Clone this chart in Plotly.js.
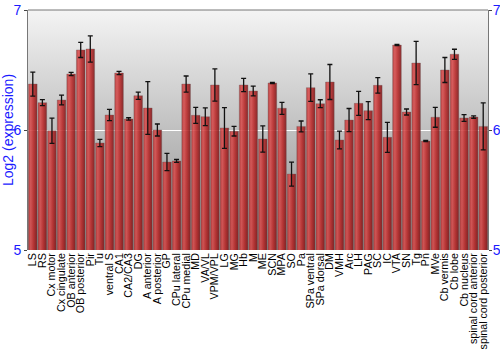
<!DOCTYPE html>
<html>
<head>
<meta charset="utf-8">
<script src="https://cdn.plot.ly/plotly-3.0.1.min.js"></script>
<style>html,body{margin:0;padding:0;background:#fff;}#chart{width:500px;height:350px;}</style>
</head>
<body>
<div id="chart"></div>
<script>
var regions = ["LS","RS","Cx motor","Cx cingulate","OB anterior","OB posterior","Pir","Tu","ventral S","CA1","CA2/CA3","DG","A anterior","A posterior","GP","CPu lateral","CPu medial","MD","VA/VL","VPM/VPL","LG","MG","Hb","M","ME","SCN","MPA","SO","Pa","SPa ventral","SPa dorsal","DM","VMH","Arc","LH","PAG","SC","IC","VTA","SN","Tg","Pn","MVe","Cb vermis","Cb lobe","Cb nucleus","spinal cord anterior","spinal cord posterior"];
var expression = [6.383,6.228,5.994,6.25,6.467,6.667,6.675,5.892,6.125,6.475,6.092,6.286,6.183,6.0,5.733,5.742,6.383,6.122,6.111,6.375,6.017,5.99,6.375,6.325,5.925,6.392,6.181,5.633,6.03,6.353,6.219,6.4,5.917,6.083,6.222,6.161,6.372,5.939,6.708,6.15,6.558,5.908,6.106,6.5,6.631,6.1,6.108,6.03];
var errors = [0.1,0.025,0.105,0.04,0.014,0.063,0.11,0.03,0.047,0.013,0.01,0.03,0.22,0.05,0.072,0.012,0.067,0.067,0.074,0.135,0.17,0.04,0.055,0.04,0.11,0.005,0.05,0.1,0.045,0.114,0.033,0.146,0.074,0.096,0.1,0.075,0.065,0.125,0.005,0.025,0.18,0.005,0.083,0.104,0.042,0.028,0.01,0.196];
var yTicks = [5,6,7];

var bg = 'data:image/svg+xml;charset=utf-8,' + encodeURIComponent(
 '<svg xmlns="http://www.w3.org/2000/svg" width="100" height="100" preserveAspectRatio="none">' +
 '<defs><linearGradient id="g" x1="0" y1="0" x2="0" y2="1"><stop offset="0" stop-color="#f4f4f4"/><stop offset="1" stop-color="#8c8c8c"/></linearGradient></defs>' +
 '<rect width="100" height="100" fill="url(#g)"/></svg>');

var trace = {
  type: 'bar',
  x: regions,
  y: expression,
  marker: {color: 'rgba(190,40,40,0.85)', line: {color: 'rgba(110,90,90,0.6)', width: 0.6}},
  error_y: {type: 'data', array: errors, visible: true, color: '#111', thickness: 1.3, width: 2.5},
  hoverinfo: 'x+y'
};
var ghost = {type:'scatter', x:[regions[0]], y:[6], yaxis:'y2', mode:'markers', marker:{opacity:0}, showlegend:false, hoverinfo:'skip'};

var layout = {
  width: 500, height: 350,
  margin: {l: 28, r: 12, t: 10, b: 100},
  paper_bgcolor: '#ffffff',
  plot_bgcolor: 'rgba(0,0,0,0)',
  showlegend: false,
  bargap: 0.1,
  font: {family: 'Liberation Sans, Arial, sans-serif'},
  images: [{source: bg, xref: 'paper', yref: 'paper', x: 0, y: 1, sizex: 1, sizey: 1, sizing: 'stretch', xanchor: 'left', yanchor: 'top', layer: 'below'}],
  xaxis: {
    type: 'category', range: [-0.5, regions.length - 0.5], tickmode: 'array', tickvals: regions, ticktext: regions,
    tickangle: -90, tickfont: {size: 10.7, color: '#000'},
    ticks: '', showline: false, showgrid: false, automargin: false
  },
  yaxis: {
    range: [5, 7], tickvals: yTicks, ticktext: yTicks.map(String),
    tickfont: {size: 14, color: '#1a1aff'}, ticks: 'outside', ticklen: 3, tickcolor: '#444',
    showline: true, linecolor: '#777', linewidth: 1, mirror: false,
    showgrid: true, gridcolor: '#ffffff', gridwidth: 1, zeroline: false,
    title: {text: 'Log2 (expression)', font: {size: 14, color: '#1a1aff'}, standoff: 4},
    automargin: false
  },
  yaxis2: {
    range: [5, 7], overlaying: 'y', side: 'right', tickvals: yTicks, ticktext: yTicks.map(String),
    tickfont: {size: 14, color: '#1a1aff'}, ticks: 'outside', ticklen: 3, tickcolor: '#444', ticklabelstandoff: -2,
    showline: true, linecolor: '#777', linewidth: 1, showgrid: false, zeroline: false, automargin: false
  },
  shapes: [{type: 'line', xref: 'paper', yref: 'paper', x0: 0, x1: 1, y0: 1, y1: 1, line: {color: '#777', width: 1}}]
};

Plotly.newPlot('chart', [trace, ghost], layout, {displayModeBar: false, staticPlot: true}).then(function(gd){
  var svg = gd.querySelector('svg.main-svg');
  var ns = 'http://www.w3.org/2000/svg';
  var defs = svg.querySelector('defs') || svg.insertBefore(document.createElementNS(ns,'defs'), svg.firstChild);
  var lg = document.createElementNS(ns, 'linearGradient');
  lg.setAttribute('id', 'barShade');
  lg.setAttribute('x1', '0'); lg.setAttribute('y1', '0'); lg.setAttribute('x2', '1'); lg.setAttribute('y2', '0');
  [['0','rgb(180,45,45)'],['0.25','rgb(215,75,75)'],['0.6','rgb(185,38,38)'],['1','rgb(125,18,20)']].forEach(function(s){
    var st = document.createElementNS(ns, 'stop'); st.setAttribute('offset', s[0]); st.setAttribute('stop-color', s[1]); lg.appendChild(st);
  });
  defs.appendChild(lg);
  gd.querySelectorAll('.bars .point path').forEach(function(p){
    p.style.fill = 'url(#barShade)';
    p.style.fillOpacity = '0.87';
  });
});
</script>
</body>
</html>
